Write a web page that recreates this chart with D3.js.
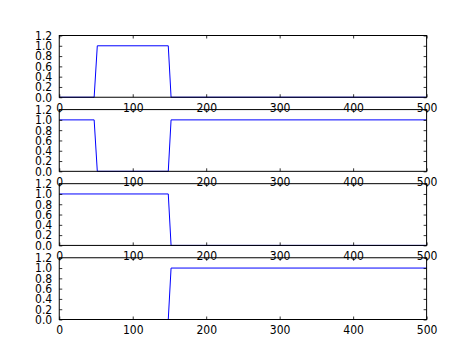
<!DOCTYPE html>
<html>
<head>
<meta charset="utf-8">
<script src="https://cdn.jsdelivr.net/npm/d3@7"></script>
<style>
  html, body { margin: 0; padding: 0; background: #fff; }
  svg { display: block; }
</style>
</head>
<body>
<div id="chart"></div>
<script>
// breakpoints (x, y) for each of the four panels
const xs1 = [0, 47.5, 51.8, 148.4, 152.2, 500];
const ys1 = [0, 0, 1, 1, 0, 0];
const xs2 = [0, 47.5, 51.8, 148.4, 152.2, 500];
const ys2 = [1, 1, 0, 0, 1, 1];
const xs3 = [0, 148.4, 152.2, 500];
const ys3 = [1, 1, 0, 0];
const xs4 = [0, 148.4, 152.2, 500];
const ys4 = [0, 0, 1, 1];

const xTicks = [0, 100, 200, 300, 400, 500];
const yTicks = [0.0, 0.2, 0.4, 0.6, 0.8, 1.0, 1.2];

const panels = [
  { xs: xs1, ys: ys1 },
  { xs: xs2, ys: ys2 },
  { xs: xs3, ys: ys3 },
  { xs: xs4, ys: ys4 }
];

const W = 474, H = 355;
const margin = { left: 59.25, right: 426.6, top: 35.5, bottom: 319.5 };
const gapFrac = 0.2;
const panelH = (margin.bottom - margin.top) / (panels.length + gapFrac * (panels.length - 1));
const gap = panelH * gapFrac;

const svg = d3.select('#chart').append('svg')
  .attr('width', W)
  .attr('height', H);

const x = d3.scaleLinear().domain([0, 500]).range([margin.left, margin.right]);
const fontSize = '12px';
const fontFamily = 'DejaVu Sans Condensed, DejaVu Sans, sans-serif';

panels.forEach((p, i) => {
  const y0 = margin.top + i * (panelH + gap);
  const y = d3.scaleLinear().domain([0, 1.2]).range([y0 + panelH, y0]);
  const g = svg.append('g');

  const pts = p.xs.map((v, k) => [x(v), y(p.ys[k])]);
  g.append('path')
    .attr('d', d3.line()(pts))
    .attr('fill', 'none')
    .attr('stroke', '#0000ff')
    .attr('stroke-width', 1);

  // ticks pointing inward on all four sides
  const tl = 3;
  const axisStyle = sel => {
    sel.select('.domain').remove();
    sel.selectAll('.tick line').attr('stroke', '#000').attr('stroke-width', 0.8);
    sel.selectAll('.tick text')
      .attr('fill', '#000')
      .attr('font-size', fontSize)
      .attr('font-family', fontFamily);
  };

  g.append('g')
    .attr('transform', `translate(0,${y0 + panelH})`)
    .call(d3.axisBottom(x).tickValues(xTicks).tickFormat(d3.format('d'))
      .tickSizeInner(-tl).tickSizeOuter(0).tickPadding(6))
    .call(axisStyle);
  g.append('g')
    .attr('transform', `translate(0,${y0})`)
    .call(d3.axisTop(x).tickValues(xTicks).tickFormat('')
      .tickSizeInner(-tl).tickSizeOuter(0))
    .call(axisStyle);
  g.append('g')
    .attr('transform', `translate(${margin.left},0)`)
    .call(d3.axisLeft(y).tickValues(yTicks).tickFormat(d3.format('.1f'))
      .tickSizeInner(-tl).tickSizeOuter(0).tickPadding(7))
    .call(axisStyle);
  g.append('g')
    .attr('transform', `translate(${margin.right},0)`)
    .call(d3.axisRight(y).tickValues(yTicks).tickFormat('')
      .tickSizeInner(-tl).tickSizeOuter(0))
    .call(axisStyle);

  g.append('rect')
    .attr('x', margin.left).attr('y', y0)
    .attr('width', margin.right - margin.left).attr('height', panelH)
    .attr('fill', 'none')
    .attr('stroke', '#000')
    .attr('stroke-width', 1);
});
</script>
</body>
</html>
